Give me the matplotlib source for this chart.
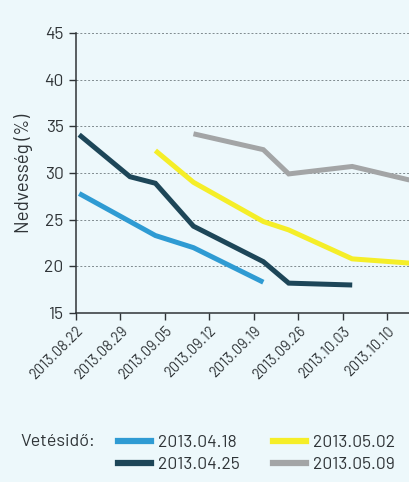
import matplotlib.pyplot as plt
import numpy as np
import pandas as pd
from matplotlib.lines import Line2D

# measurement days, sowing-date series (moisture %)
dates = ["2013.08.22", "2013.08.30", "2013.09.03", "2013.09.09",
         "2013.09.20", "2013.09.24", "2013.10.04", "2013.10.13"]
s_0418 = [27.8, None, 23.3, 22.0, 18.3, None, None, None]
s_0425 = [34.1, 29.6, 28.9, 24.3, 20.5, 18.2, 18.0, None]
s_0502 = [None, None, 32.4, 29.0, 24.8, 23.9, 20.8, 20.35]
s_0509 = [None, None, None, 34.2, 32.5, 29.9, 30.7, 29.25]

series = [
    ("2013.04.18", s_0418, "#2f9bd3"),
    ("2013.04.25", s_0425, "#1d4658"),
    ("2013.05.02", s_0502, "#f5ee28"),
    ("2013.05.09", s_0509, "#a3a5a6"),
]
tick_labels = ["2013.08.22", "2013.08.29", "2013.09.05", "2013.09.12",
               "2013.09.19", "2013.09.26", "2013.10.03", "2013.10.10"]

plt.rcParams["font.family"] = ["Barlow", "Saira Semi Condensed", "DejaVu Sans"]
bg = "#edf8fb"
ink = "#2f3437"

start = pd.Timestamp("2013-08-22")
x = np.array([(pd.Timestamp(d.replace(".", "-")) - start).days + 0.5 for d in dates])
xt = [(pd.Timestamp(d.replace(".", "-")) - start).days for d in tick_labels]

fig = plt.figure(figsize=(4.10, 4.82), dpi=100, facecolor=bg)
ax = fig.add_axes([0.1854, 0.3506, 0.8146, 0.581])
ax.set_facecolor(bg)

for name, vals, col in series:
    v = np.array([np.nan if a is None else a for a in vals], dtype=float)
    m = ~np.isnan(v)
    ax.plot(x[m], v[m], color=col, lw=3.6, solid_capstyle="butt",
            solid_joinstyle="miter", label=name)

ax.set_xlim(0, 52.6)
ax.set_ylim(15, 45)
ax.set_yticks(range(15, 50, 5))
ax.set_xticks(xt)
ax.set_xticklabels(tick_labels, rotation=45, ha="right", rotation_mode="anchor",
                   fontsize=10.5, color=ink)
ax.tick_params(axis="y", labelsize=12.5, colors=ink, length=5, width=1, pad=4)
ax.tick_params(axis="x", length=5, width=1, colors=ink, pad=3)
ax.yaxis.grid(True, linestyle=(0, (2, 2)), color="#7f8a8e", lw=0.7)
ax.set_axisbelow(True)
for sp in ["top", "right"]:
    ax.spines[sp].set_visible(False)
for sp in ["left", "bottom"]:
    ax.spines[sp].set_color(ink)
    ax.spines[sp].set_linewidth(1.1)
ax.set_ylabel("Nedvesség (%)", fontsize=13.5, color=ink, labelpad=8)

handles = [Line2D([], [], color=c, lw=4.5) for _, _, c in series]
fig.text(0.049, 0.083, "Vetésidő:", fontsize=13, color=ink, va="center")
fig.legend(handles, [n for n, _, _ in series], ncol=2, frameon=False,
           loc="center left", bbox_to_anchor=(0.288, 0.059), fontsize=12.5,
           borderaxespad=0, borderpad=0, handlelength=1.9, handletextpad=0.4,
           columnspacing=1.9, labelspacing=0.4, labelcolor=ink)

fig.savefig("out.png", dpi=100, facecolor=bg)
